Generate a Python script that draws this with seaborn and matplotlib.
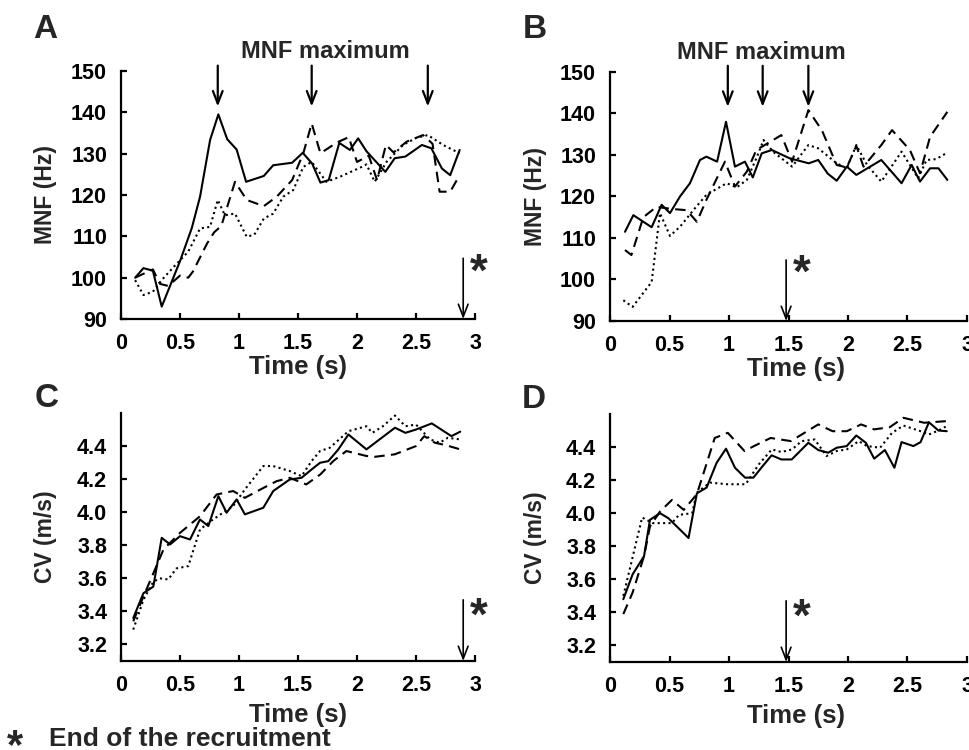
import pandas as pd
import matplotlib
matplotlib.use("Agg")
import matplotlib.pyplot as plt
import seaborn as sns

# ---- Panel A: MNF (Hz), recruitment ends at 2.9 s ----
tA_solid = [0.12, 0.19, 0.27, 0.345, 0.50, 0.60, 0.67, 0.755, 0.825, 0.90,
            0.98, 1.06, 1.21, 1.29, 1.45, 1.54, 1.62, 1.69, 1.76, 1.85,
            1.94, 2.01, 2.08, 2.24, 2.32, 2.41, 2.55, 2.63, 2.72, 2.79, 2.87]
vA_solid = [100, 102.3, 101.7, 93, 104, 112, 119.6, 133.3, 139.5, 133.5,
            131, 123.2, 124.6, 127.2, 127.8, 130.2, 127.6, 123, 123.6, 132.6,
            130.9, 133.7, 130.6, 125.6, 128.9, 129.3, 132.1, 131.3, 126.4, 124.8, 130.9]
tA_dashed = [0.12, 0.27, 0.33, 0.40, 0.50, 0.57, 0.61, 0.73, 0.79, 0.85,
             0.966, 1.065, 1.21, 1.32, 1.45, 1.545, 1.616, 1.69, 1.83, 1.93,
             2.0, 2.10, 2.17, 2.245, 2.31, 2.42, 2.56, 2.64, 2.70, 2.79, 2.87]
vA_dashed = [100, 102, 98.5, 98, 100.5, 100, 101.5, 108.3, 111, 112.5,
             123.2, 118.8, 117.3, 119.6, 123.6, 130.1, 137.3, 130.1, 132.7, 134,
             128, 129.5, 123.6, 132.1, 130.3, 132.9, 134.5, 132.4, 120.8, 120.8, 124.8]
tA_dotted = [0.12, 0.19, 0.27, 0.36, 0.45, 0.57, 0.67, 0.755, 0.82, 0.88,
             0.966, 1.065, 1.13, 1.21, 1.29, 1.375, 1.46, 1.545, 1.616, 1.74,
             1.855, 2.04, 2.08, 2.15, 2.25, 2.39, 2.50, 2.60, 2.73, 2.87]
vA_dotted = [99.4, 95.8, 96.6, 99.9, 102.7, 106.3, 111.9, 112.3, 118.8, 115.1,
             115.5, 109.9, 110.4, 114.3, 115.5, 119.6, 121.2, 126.8, 128, 123.2,
             124.4, 126.8, 127.4, 123.2, 128, 132.1, 133.8, 134.5, 132.1, 130.1]
mnf_max_A = [0.82, 1.616, 2.60]
recruit_end_A = 2.9

# ---- Panel B: MNF (Hz), recruitment ends at 1.5 s ----
tB_solid = [0.126, 0.196, 0.35, 0.434, 0.504, 0.588, 0.672, 0.756, 0.81, 0.90,
            0.975, 1.05, 1.134, 1.20, 1.275, 1.36, 1.51, 1.67, 1.75, 1.83,
            1.905, 1.99, 2.07, 2.28, 2.45, 2.535, 2.605, 2.69, 2.76, 2.835]
vB_solid = [111.5, 115.5, 112.6, 118, 116, 120, 123.2, 128.8, 129.6, 128.4,
            138, 127.2, 128.4, 124.6, 130.4, 131.2, 129.2, 128, 128.8, 125.5,
            123.8, 127.2, 125.2, 128.8, 123.2, 127.6, 123.6, 126.8, 126.8, 124]
tB_dashed = [0.126, 0.18, 0.28, 0.39, 0.52, 0.645, 0.73, 0.81, 0.966, 1.05,
             1.15, 1.23, 1.44, 1.53, 1.667, 1.78, 1.905, 1.99, 2.07, 2.13,
             2.28, 2.37, 2.52, 2.605, 2.69, 2.835]
vB_dashed = [107.1, 105.9, 115, 117.5, 117, 116.7, 113.9, 119.2, 128.4, 122.4,
             126, 131.2, 134.8, 128.4, 140.8, 136, 127.6, 127, 132.2, 127.2,
             132.4, 136, 131.2, 125.6, 134.4, 140.4]
tB_dotted = [0.112, 0.19, 0.35, 0.42, 0.504, 0.588, 0.70, 0.81, 0.98, 1.065,
             1.15, 1.23, 1.29, 1.37, 1.53, 1.667, 1.75, 1.905, 1.99, 2.07,
             2.16, 2.28, 2.45, 2.59, 2.66, 2.74, 2.835]
vB_dotted = [95, 93.4, 99.4, 116, 110.5, 112.7, 116.7, 120.4, 123.2, 122.2,
             124, 129.2, 133.6, 130.8, 127.2, 132.4, 131.6, 128, 126.8, 132.4,
             127.6, 123.6, 130.8, 124.4, 128.8, 129, 130.6]
mnf_max_B = [0.99, 1.283, 1.667]
recruit_end_B = 1.48

# ---- Panel C: CV (m/s) ----
tC_solid = [0.104, 0.19, 0.274, 0.345, 0.416, 0.50, 0.585, 0.669, 0.74, 0.825,
            0.895, 0.98, 1.05, 1.206, 1.29, 1.43, 1.53, 1.616, 1.687, 1.757,
            1.842, 1.927, 2.08, 2.322, 2.41, 2.50, 2.634, 2.80, 2.875]
vC_solid = [3.36, 3.51, 3.55, 3.845, 3.805, 3.855, 3.835, 3.956, 3.916, 4.097,
            3.997, 4.077, 3.987, 4.027, 4.128, 4.198, 4.208, 4.259, 4.299, 4.309,
            4.38, 4.47, 4.38, 4.511, 4.48, 4.50, 4.537, 4.46, 4.487]
tC_dashed = [0.104, 0.19, 0.274, 0.36, 0.50, 0.67, 0.81, 0.95, 1.05, 1.21,
             1.32, 1.43, 1.57, 1.69, 1.80, 1.91, 2.08, 2.15, 2.32, 2.50,
             2.57, 2.66, 2.75, 2.875]
vC_dashed = [3.34, 3.49, 3.63, 3.775, 3.875, 3.976, 4.107, 4.128, 4.087, 4.148,
             4.188, 4.208, 4.168, 4.229, 4.31, 4.37, 4.34, 4.335, 4.35, 4.4,
             4.46, 4.42, 4.406, 4.38]
tC_dotted = [0.104, 0.19, 0.274, 0.33, 0.40, 0.47, 0.57, 0.67, 0.78, 0.865,
             0.95, 1.05, 1.206, 1.29, 1.43, 1.53, 1.616, 1.687, 1.77, 1.927,
             2.08, 2.13, 2.22, 2.322, 2.41, 2.50, 2.62, 2.70, 2.77, 2.875]
vC_dotted = [3.29, 3.47, 3.58, 3.6, 3.593, 3.66, 3.674, 3.896, 3.956, 3.997,
             4.037, 4.138, 4.279, 4.279, 4.249, 4.218, 4.31, 4.37, 4.39, 4.49,
             4.52, 4.48, 4.52, 4.585, 4.52, 4.53, 4.44, 4.42, 4.45, 4.44]

# ---- Panel D: CV (m/s) ----
tD_solid = [0.112, 0.19, 0.286, 0.336, 0.42, 0.49, 0.66, 0.73, 0.812, 0.896,
            0.975, 1.05, 1.135, 1.205, 1.283, 1.358, 1.44, 1.527, 1.667, 1.75,
            1.834, 1.905, 1.989, 2.07, 2.15, 2.22, 2.31, 2.39, 2.45, 2.55,
            2.61, 2.68, 2.76, 2.83]
vD_solid = [3.48, 3.63, 3.74, 3.96, 4.00, 3.97, 3.85, 4.12, 4.155, 4.305,
            4.39, 4.275, 4.215, 4.215, 4.285, 4.35, 4.325, 4.325, 4.426, 4.382,
            4.366, 4.396, 4.406, 4.47, 4.426, 4.33, 4.382, 4.275, 4.43, 4.406,
            4.43, 4.55, 4.50, 4.496]
tD_dashed = [0.112, 0.19, 0.286, 0.336, 0.42, 0.52, 0.62, 0.73, 0.88, 0.99,
             1.13, 1.21, 1.35, 1.52, 1.75, 1.87, 1.99, 2.11, 2.22, 2.35,
             2.466, 2.64, 2.83]
vD_dashed = [3.39, 3.52, 3.74, 3.92, 4.01, 4.08, 4.02, 4.115, 4.455, 4.486,
             4.376, 4.406, 4.455, 4.436, 4.537, 4.496, 4.496, 4.537, 4.507, 4.52,
             4.577, 4.547, 4.557]
tD_dotted = [0.112, 0.27, 0.36, 0.52, 0.58, 0.69, 0.73, 0.84, 0.99, 1.14,
             1.25, 1.36, 1.44, 1.53, 1.61, 1.72, 1.82, 1.905, 1.99, 2.09,
             2.16, 2.27, 2.37, 2.466, 2.61, 2.68, 2.76, 2.83]
vD_dotted = [3.50, 3.974, 3.94, 3.94, 3.99, 4.0, 4.125, 4.185, 4.175, 4.175,
             4.295, 4.386, 4.37, 4.386, 4.436, 4.446, 4.346, 4.376, 4.386, 4.436,
             4.406, 4.396, 4.486, 4.53, 4.496, 4.476, 4.50, 4.527]

x_ticks = [0, 0.5, 1, 1.5, 2, 2.5, 3]
x_ticklabels = ["0", "0.5", "1", "1.5", "2", "2.5", "3"]
mnf_ticks = [90, 100, 110, 120, 130, 140, 150]
cv_ticks = [3.2, 3.4, 3.6, 3.8, 4.0, 4.2, 4.4]

TRIAL_DASHES = {"trial 1": "", "trial 2": (5, 3), "trial 3": (1, 1.6)}

sns.set_theme(style="ticks")
plt.rcParams["font.family"] = ["Liberation Sans", "DejaVu Sans"]
plt.rcParams["font.weight"] = "bold"
plt.rcParams["axes.labelweight"] = "bold"
plt.rcParams["mathtext.fontset"] = "custom"
plt.rcParams["mathtext.bf"] = "Liberation Sans:bold"
plt.rcParams["mathtext.rm"] = "Liberation Sans:bold"

STAR = r"$\mathbf{*}$"

W, H = 969, 750
fig = plt.figure(figsize=(W / 100, H / 100), dpi=100)


def px_axes(left, right, top, bottom):
    return fig.add_axes([left / W, 1 - bottom / H, (right - left) / W, (bottom - top) / H])


def trials_frame(t1, v1, t2, v2, t3, v3):
    parts = []
    for name, t, v in (("trial 1", t1, v1), ("trial 2", t2, v2), ("trial 3", t3, v3)):
        parts.append(pd.DataFrame({"time": t, "value": v, "trial": name}))
    return pd.concat(parts, ignore_index=True)


def style_axes(ax, ylim, yticks, ylabel, yfmt):
    ax.set_xlim(0, 3)
    ax.set_ylim(*ylim)
    ax.set_xticks(x_ticks)
    ax.set_xticklabels(x_ticklabels)
    ax.set_yticks(yticks)
    ax.set_yticklabels([yfmt.format(v) for v in yticks])
    for side in ("top", "right"):
        ax.spines[side].set_visible(False)
    for side in ("left", "bottom"):
        ax.spines[side].set_linewidth(1.6)
        ax.spines[side].set_color("black")
    ax.tick_params(direction="in", length=4, width=1.6, colors="black",
                   labelsize=15.5, pad=10)
    for lab in ax.get_xticklabels() + ax.get_yticklabels():
        lab.set_fontweight("bold")
    ax.set_xlabel("Time (s)", fontsize=18.5, fontweight="bold")
    ax.set_ylabel(ylabel, fontsize=16.5, fontweight="bold")
    ax.set_facecolor("white")
    ax.grid(False)


def draw_trials(ax, df):
    sns.lineplot(data=df, x="time", y="value", style="trial", dashes=TRIAL_DASHES,
                 color="black", linewidth=1.5, estimator=None, sort=False,
                 legend=False, ax=ax)


ARROW = "->,head_length=0.9,head_width=0.35"


def end_arrow(ax, x, y_top, y_bottom, star_y, star_dx):
    ax.annotate("", xy=(x, y_bottom), xytext=(x, y_top),
                arrowprops=dict(arrowstyle=ARROW, lw=1.2, color="black",
                                mutation_scale=10, shrinkA=0, shrinkB=0),
                annotation_clip=False)
    ax.text(x + star_dx, star_y, STAR, fontsize=33, ha="center", va="center",
            clip_on=False)


def max_arrows(ax, xs, y_tail, y_tip):
    for x in xs:
        ax.annotate("", xy=(x, y_tip), xytext=(x, y_tail),
                    arrowprops=dict(arrowstyle=ARROW, lw=1.6, color="black",
                                    mutation_scale=10, shrinkA=0, shrinkB=0),
                    annotation_clip=False)


# Panel A
axA = px_axes(121, 475, 71, 319)
draw_trials(axA, trials_frame(tA_solid, vA_solid, tA_dashed, vA_dashed, tA_dotted, vA_dotted))
style_axes(axA, (90, 150), mnf_ticks, "MNF (Hz)", "{:d}")
max_arrows(axA, mnf_max_A, 151.3, 141.4)
axA.text(1.73, 154.6, "MNF maximum", fontsize=17, fontweight="bold",
         ha="center", va="center", clip_on=False)
end_arrow(axA, recruit_end_A, 104.7, 90, 101.3, 0.13)

# Panel B
axB = px_axes(610, 967, 72, 321)
draw_trials(axB, trials_frame(tB_solid, vB_solid, tB_dashed, vB_dashed, tB_dotted, vB_dotted))
style_axes(axB, (90, 150), mnf_ticks, "MNF (Hz)", "{:d}")
max_arrows(axB, mnf_max_B, 151.5, 141.6)
axB.text(1.275, 154.6, "MNF maximum", fontsize=17, fontweight="bold",
         ha="center", va="center", clip_on=False)
end_arrow(axB, recruit_end_B, 104.7, 90, 101.3, 0.13)

# Panel C
axC = px_axes(121, 475, 413, 661)
draw_trials(axC, trials_frame(tC_solid, vC_solid, tC_dashed, vC_dashed, tC_dotted, vC_dotted))
style_axes(axC, (3.1, 4.6), cv_ticks, "CV (m/s)", "{:.1f}")
end_arrow(axC, recruit_end_A, 3.47, 3.1, 3.37, 0.13)

# Panel D
axD = px_axes(610, 967, 414, 662)
draw_trials(axD, trials_frame(tD_solid, vD_solid, tD_dashed, vD_dashed, tD_dotted, vD_dotted))
style_axes(axD, (3.1, 4.6), cv_ticks, "CV (m/s)", "{:.1f}")
end_arrow(axD, recruit_end_B, 3.47, 3.1, 3.37, 0.13)

# Axis label placement
for ax, left in ((axA, 121), (axC, 121)):
    ax.yaxis.set_label_coords((57 - left) / 354, 0.5)
for ax, left in ((axB, 610), (axD, 610)):
    ax.yaxis.set_label_coords((547 - left) / 357, 0.5)
axA.xaxis.set_label_coords(0.5, -0.145)
axB.xaxis.set_label_coords(0.52, -0.145)
axC.xaxis.set_label_coords(0.5, -0.17)
axD.xaxis.set_label_coords(0.52, -0.17)

# Panel letters
for letter, x, y in (("A", 33, 38), ("B", 523, 38), ("C", 35, 407), ("D", 522, 408)):
    fig.text(x / W, 1 - y / H, letter, fontsize=24, fontweight="bold",
             ha="left", va="baseline")

# Footnote
fig.text(15 / W, 1 - 746 / H, STAR, fontsize=30, ha="center", va="center")
fig.text(49 / W, 1 - 746 / H, "End of the recruitment", fontsize=19,
         fontweight="bold", ha="left", va="baseline")

fig.savefig("out.png", dpi=100, facecolor="white")
